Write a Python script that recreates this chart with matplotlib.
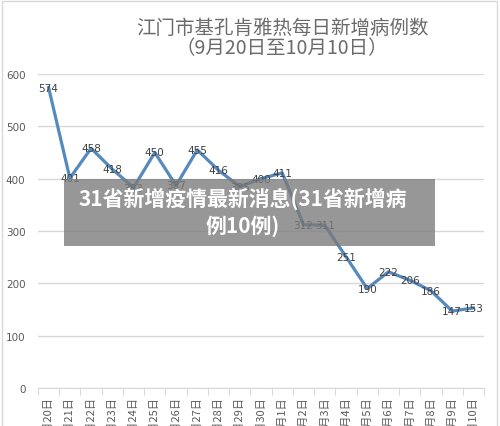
import matplotlib
matplotlib.use("Agg")
import matplotlib.pyplot as plt
from matplotlib.patches import Rectangle

plt.rcParams['font.family'] = ['Noto Sans CJK SC', 'DejaVu Sans']

dates = ["9月20日", "9月21日", "9月22日", "9月23日", "9月24日", "9月25日", "9月26日",
         "9月27日", "9月28日", "9月29日", "9月30日", "10月1日", "10月2日", "10月3日",
         "10月4日", "10月5日", "10月6日", "10月7日", "10月8日", "10月9日", "10月10日"]
cases = [574, 401, 458, 418, 383, 450, 387, 455, 416, 385, 400, 411, 312, 311,
         251, 190, 222, 206, 186, 147, 153]
yticks = [0, 100, 200, 300, 400, 500, 600]

title1 = "江门市基孔肯雅热每日新增病例数"
title2 = "（9月20日至10月10日）"
overlay = "31省新增疫情最新消息(31省新增病\n例10例)"

W, H = 500, 427
fig = plt.figure(figsize=(W / 100, H / 100), dpi=100)
fig.patch.set_facecolor("white")

# outer border
fig.add_artist(Rectangle((2 / W, -0.1), (W - 5) / W, 1.1 - 2 / H, transform=fig.transFigure,
                         fill=False, edgecolor="#d9d9d9", linewidth=1))

left, right, top, bottom = 38, 484, 75, 389
ax = fig.add_axes([left / W, 1 - bottom / H, (right - left) / W, (bottom - top) / H])
x = list(range(len(dates)))
ax.plot(x, cases, color="#5689bd", linewidth=2.3, solid_joinstyle="round", zorder=3)
for xi, v in zip(x, cases):
    ax.text(xi, v, str(v), ha="center", va="center", fontsize=7.5, color="#404040",
            family=["DejaVu Sans"], zorder=4)

ax.set_xlim(-0.5, len(dates) - 0.5)
ax.set_ylim(0, 600)
ax.set_yticks(yticks)
ax.set_yticklabels([str(t) for t in yticks], fontsize=7.5, color="#595959", family=["DejaVu Sans"])
ax.tick_params(axis="y", length=0, pad=9)
ax.grid(axis="y", color="#d9d9d9", linewidth=1)
ax.set_axisbelow(True)
for s in ["top", "right", "left"]:
    ax.spines[s].set_visible(False)
ax.spines["bottom"].set_color("#d9d9d9")

ax.set_xticks([i - 0.5 for i in range(len(dates) + 1)], minor=False)
ax.set_xticklabels([])
ax.tick_params(axis="x", which="major", length=5, color="#d9d9d9")
ax.set_xticks(x, minor=True)
ax.set_xticklabels(dates, minor=True, rotation=90, fontsize=8, color="#595959", va="top")
ax.tick_params(axis="x", which="minor", length=0, pad=6)

fig.text(282 / W, 1 - 28 / H, title1, ha="center", va="center", fontsize=14, color="#6b6b6b")
fig.text(282 / W, 1 - 49 / H, title2, ha="center", va="center", fontsize=14, color="#6b6b6b")

# overlay banner
fig.add_artist(Rectangle((64 / W, 1 - 247 / H), (435 - 64) / W, (247 - 180) / H,
                         transform=fig.transFigure, facecolor="#7a7a7a", alpha=0.78,
                         edgecolor="none", zorder=10))
fig.text(243 / W, 1 - 212 / H, overlay, ha="center", va="center", fontsize=15,
         fontweight="bold", color="white", linespacing=1.3, zorder=11)

fig.savefig("out.png", dpi=100)
